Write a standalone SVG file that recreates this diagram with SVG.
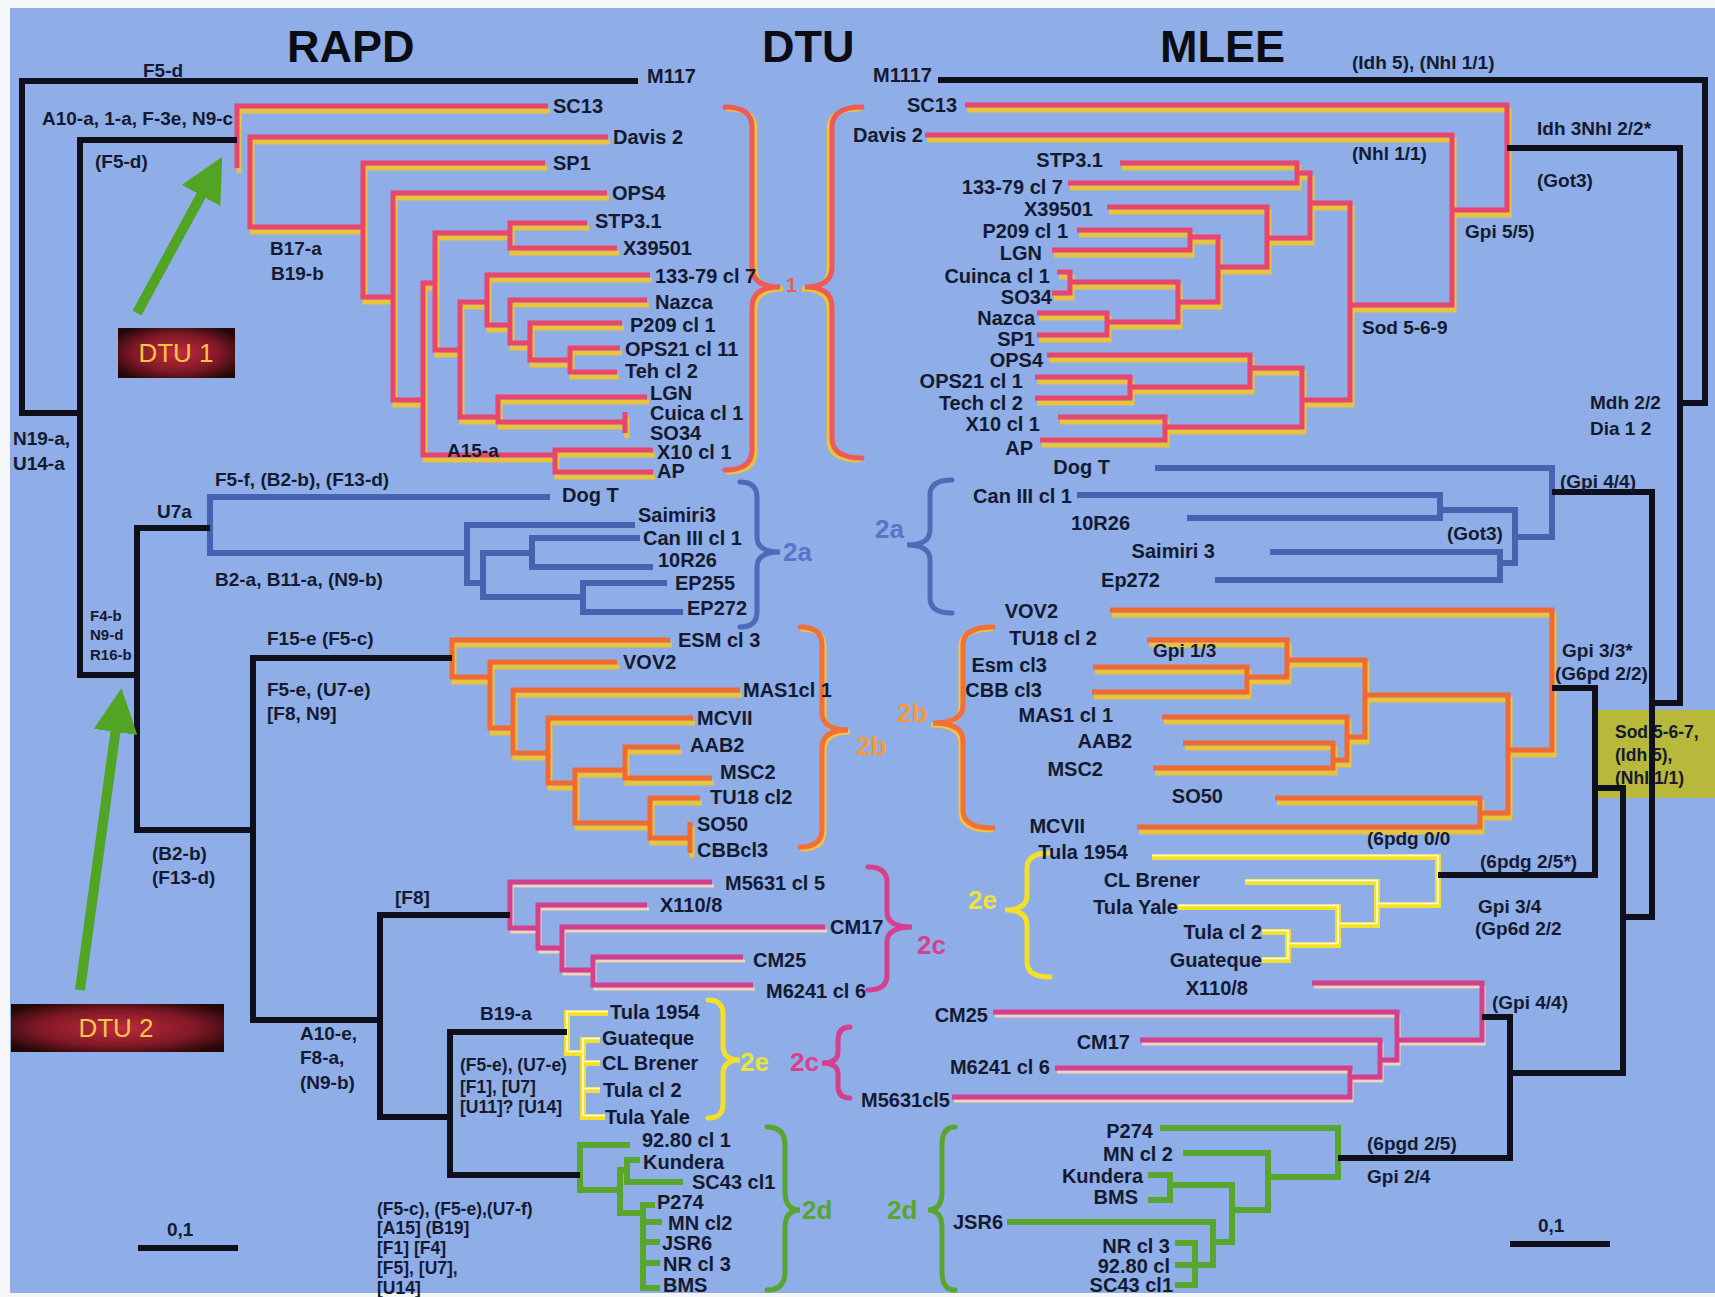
<svg xmlns="http://www.w3.org/2000/svg" width="1715" height="1297" viewBox="0 0 1715 1297">
<style>
text{font-family:"Liberation Sans",Arial,sans-serif;font-weight:bold;fill:#141a30;dominant-baseline:central}
.lf{font-size:20px}
.an{font-size:19px}
.sm{font-size:15px}
.bk{font-size:17.5px}
.ti{font-size:45px;fill:#0c0c14}
.e{text-anchor:end}
.dtu{font-size:26px;font-weight:normal;fill:#f8c448;text-anchor:middle}
.bl{font-size:26px}
.blk{fill:none;stroke:#10101c;stroke-width:6}
.br{fill:none;stroke-width:5;stroke-linecap:round}
.y1{stroke:#e8c43c;stroke-width:5}
.k1{stroke:#e8466c;stroke-width:5}
.or{stroke:#f06a34;stroke-width:5}
.mg{stroke:#d4408e;stroke-width:5}
.cr{stroke:#f4d4b8;stroke-width:3}
.ye{stroke:#f2e02a;stroke-width:6}
.wh{stroke:#fffbe0;stroke-width:1.6}
.bu{stroke:#4862b2;stroke-width:6}
.gr{stroke:#58a62e;stroke-width:6}
</style>
<defs>
<radialGradient id="dg" cx="0.5" cy="0.5" r="0.62">
<stop offset="0" stop-color="#c02c3c"/><stop offset="0.6" stop-color="#801826"/><stop offset="1" stop-color="#240808"/>
</radialGradient>
<marker id="ah" markerWidth="4.4" markerHeight="4.4" refX="0.4" refY="2.2" orient="auto" markerUnits="strokeWidth">
<path d="M0,0 L4.4,2.2 L0,4.4 Z" fill="#52a424"/>
</marker>
<g id="pr1" fill="none">
<path d="M548,106 H237 V168 M608,137 H250 V227 H363 M545,163 H363 V297 H393 M607,193 H393 V400 H423 M435,283 H423 V455 H555 M510,233 H435 V350 H460 M587,223 H510 V248 H617 M487,302 H460 V417 H498 M650,275 H487 V325 H510 M647,300 H510 V343 H530 M622,323 H530 V360 H570 M620,348 H570 V372 H617 M647,397 H498 V422 H625 M625,412 V433 M653,450 H555 V472 H653"/>
</g>
<g id="pm1" fill="none">
<path d="M965,105 H1507 V210 H1452 M925,135 H1452 V305 H1350 M1310,203 H1350 V400 H1302 M1297,173 H1310 V238 H1267 M1120,163 H1297 V183 H1068 M1107,207 H1267 V267 H1218 M1190,237 H1218 V302 H1178 M1077,230 H1190 V250 H1052 M1057,272 H1070 V293 H1052 M1070,282 H1178 V322 H1107 M1037,313 H1107 V335 H1037 M1250,368 H1302 V427 H1165 M1047,355 H1250 V387 H1130 M1035,377 H1130 V398 H1035 M1058,417 H1165 V440 H1040"/>
</g>
<g id="pr2b" fill="none">
<path d="M670,640 H452 V677 H490 M617,662 H490 V728 H513 M740,690 H513 V753 H548 M693,718 H548 V783 H575 M625,770 H575 V823 H650 M680,747 H625 V778 H712 M700,798 H650 V838 H690 M690,822 V853"/>
</g>
<g id="pm2b" fill="none">
<path d="M1110,610 H1552 V750 H1508 M1147,640 H1287 V677 H1247 M1093,667 H1247 V692 H1092 M1287,660 H1365 V737 H1347 M1162,717 H1347 V760 H1333 M1183,743 H1333 V768 H1153 M1365,695 H1508 V813 H1480 M1275,798 H1480 V827 H1137"/>
</g>
<g id="pr2c" fill="none">
<path d="M712,882 H510 V928 H538 M647,905 H538 V948 H562 M825,927 H562 V970 H593 M743,957 H593 V985 H753"/>
</g>
<g id="pm2c" fill="none">
<path d="M1312,983 H1482 V1040 H1397 M993,1012 H1397 V1060 H1380 M1140,1040 H1380 V1077 H1350 M1055,1068 H1350 V1097 H952"/>
</g>
<g id="pr2e" fill="none">
<path d="M608,1013 H567 V1053 H583 M600,1040 H583 V1117 H605 M583,1063 H600 M583,1090 H600"/>
</g>
<g id="pm2e" fill="none">
<path d="M1152,857 H1438 V905 H1377 M1245,882 H1377 V925 H1338 M1178,907 H1338 V945 H1288 M1262,932 H1288 V960 H1262"/>
</g>
</defs>

<rect x="0" y="0" width="1715" height="1297" fill="#f4f6f8"/>
<rect x="10" y="8" width="1705" height="1285" fill="#8fade7"/>

<g id="titles">
<text class="ti" x="287" y="46">RAPD</text>
<text class="ti" x="762" y="46">DTU</text>
<text class="ti" x="1160" y="46">MLEE</text>
</g>

<g id="mlee-box">
<rect x="1598" y="710" width="117" height="88" fill="#b8b83a"/>
<text class="bk" x="1615" y="732">Sod 5-6-7,</text>
<text class="bk" x="1615" y="755">(Idh 5),</text>
<text class="bk" x="1615" y="778">(Nhl 1/1)</text>
</g>

<g id="connectors">
<use href="#pr1" class="y1" transform="translate(2,5)"/>
<use href="#pr1" class="k1"/>
<use href="#pm1" class="y1" transform="translate(2,5)"/>
<use href="#pm1" class="k1"/>
<use href="#pr2b" class="y1" transform="translate(2,5)"/>
<use href="#pr2b" class="or"/>
<use href="#pm2b" class="y1" transform="translate(2,5)"/>
<use href="#pm2b" class="or"/>
<use href="#pr2c" class="cr" transform="translate(2,4)"/>
<use href="#pr2c" class="mg"/>
<use href="#pm2c" class="cr" transform="translate(2,4)"/>
<use href="#pm2c" class="mg"/>
<use href="#pr2e" class="ye"/>
<use href="#pr2e" class="wh" transform="translate(0,-1.5)"/>
<use href="#pm2e" class="ye"/>
<use href="#pm2e" class="wh" transform="translate(0,-1.5)"/>
<path class="bu" fill="none" d="M550,497 H210 V553 H467 M635,525 H467 V583 H483 M532,553 H483 V597 H583 M640,538 H532 V567 H653 M667,583 H583 V612 H683"/>
<path class="bu" fill="none" d="M1155,468 H1552 V537 H1515 M1077,495 H1440 V518 H1187 M1440,510 H1515 V563 H1500 M1270,552 H1500 V580 H1215"/>
<path class="gr" fill="none" d="M630,1145 H580 V1190 H620 M640,1160 H627 V1182 H683 M627,1170 H620 V1213 H643 M655,1205 H643 V1288 H660 M643,1222 H662 M643,1242 H660 M643,1263 H660"/>
<path class="gr" fill="none" d="M1160,1128 H1338 V1177 H1268 M1183,1153 H1268 V1210 H1232 M1148,1175 H1170 V1200 H1148 M1170,1185 H1232 V1242 H1213 M1007,1222 H1213 V1265 H1195 M1175,1243 H1195 V1285 H1175 M1175,1265 H1195"/>
<path class="blk" d="M638,81 H22 V413 H80 M237,140 H80 V675 H137 M210,528 H137 V830 H253 M452,658 H253 V1020 H380 M510,915 H380 V1117 H450 M567,1032 H450 V1175 H580"/>
<path class="blk" d="M938,80 H1705 V403 H1680 M1507,148 H1680 V703 H1652 M1552,492 H1652 V917 H1623 M1552,688 H1595 V875 H1438 M1595,788 H1623 V1073 H1510 M1482,1017 H1510 V1158 H1338"/>
<path class="blk" d="M138,1248 H238 M1510,1244 H1610"/>
</g>

<g id="braces">
<path class="br" stroke="#e8c43c" transform="translate(3,2)" d="M725,107 Q752,107 752,127 V267 Q752,287 780,287 Q752,287 752,307 V450 Q752,470 725,470"/>
<path class="br" stroke="#ee5a58" d="M725,107 Q752,107 752,127 V267 Q752,287 780,287 Q752,287 752,307 V450 Q752,470 725,470"/>
<path class="br" stroke="#e8c43c" transform="translate(-3,2)" d="M862,107 Q832,107 832,127 V267 Q832,287 805,287 Q832,287 832,307 V438 Q832,458 862,458"/>
<path class="br" stroke="#ee5a58" d="M862,107 Q832,107 832,127 V267 Q832,287 805,287 Q832,287 832,307 V438 Q832,458 862,458"/>
<path class="br" stroke="#4f6ab8" d="M740,482 Q757,482 757,497 V537 Q757,552 780,552 Q757,552 757,567 V612 Q757,627 740,627"/>
<path class="br" stroke="#4f6ab8" d="M952,480 Q930,480 930,495 V530 Q930,545 907,545 Q930,545 930,560 V598 Q930,613 952,613"/>
<path class="br" stroke="#f2c240" transform="translate(2,2)" d="M800,627 Q822,627 822,645 V712 Q822,730 848,730 Q822,730 822,748 V829 Q822,847 800,847"/>
<path class="br" stroke="#f07038" d="M800,627 Q822,627 822,645 V712 Q822,730 848,730 Q822,730 822,748 V829 Q822,847 800,847"/>
<path class="br" stroke="#f2c240" transform="translate(-2,2)" d="M993,627 Q963,627 963,645 V705 Q963,723 933,723 Q963,723 963,741 V810 Q963,828 993,828"/>
<path class="br" stroke="#f07038" d="M993,627 Q963,627 963,645 V705 Q963,723 933,723 Q963,723 963,741 V810 Q963,828 993,828"/>
<path class="br" stroke="#d4408e" d="M868,867 Q887,867 887,882 V912 Q887,927 912,927 Q887,927 887,942 V975 Q887,990 868,990"/>
<path class="br" stroke="#d4408e" d="M850,1027 Q838,1027 838,1040 V1052 Q838,1063 822,1063 Q838,1063 838,1074 V1086 Q838,1098 850,1098"/>
<path class="br" stroke="#f2e02a" d="M708,1000 Q723,1000 723,1014 V1046 Q723,1060 740,1060 Q723,1060 723,1074 V1104 Q723,1118 708,1118"/>
<path class="br" stroke="#f2e02a" d="M1050,853 Q1027,853 1027,868 V895 Q1027,910 1005,910 Q1027,910 1027,925 V962 Q1027,977 1050,977"/>
<path class="br" stroke="#58a62e" d="M767,1127 Q785,1127 785,1145 V1192 Q785,1210 800,1210 Q785,1210 785,1228 V1272 Q785,1290 767,1290"/>
<path class="br" stroke="#58a62e" d="M955,1127 Q942,1127 942,1145 V1192 Q942,1210 928,1210 Q942,1210 942,1228 V1272 Q942,1290 955,1290"/>
<text x="786" y="285" font-size="20" style="fill:#e8604c">1</text>
<text class="bl" x="783" y="552" style="fill:#5a74c8">2a</text>
<text class="bl" x="875" y="529" style="fill:#5a74c8">2a</text>
<text class="bl" x="856" y="746" style="fill:#f29a40">2b</text>
<text class="bl" x="897" y="713" style="fill:#f29a40">2b</text>
<text class="bl" x="917" y="945" style="fill:#d8408c">2c</text>
<text class="bl" x="790" y="1062" style="fill:#d8408c">2c</text>
<text class="bl" x="740" y="1062" style="fill:#ece23c">2e</text>
<text class="bl" x="968" y="900" style="fill:#ece23c">2e</text>
<text class="bl" x="802" y="1210" style="fill:#58a62e">2d</text>
<text class="bl" x="887" y="1210" style="fill:#58a62e">2d</text>
</g>

<g id="dtu-labels">
<line x1="137" y1="313" x2="203" y2="192" stroke="#52a424" stroke-width="10" marker-end="url(#ah)"/>
<line x1="80" y1="990" x2="116" y2="728" stroke="#52a424" stroke-width="10" marker-end="url(#ah)"/>
<rect x="118" y="328" width="117" height="50" fill="url(#dg)"/>
<text class="dtu" x="176" y="353">DTU 1</text>
<rect x="11" y="1004" width="213" height="48" fill="url(#dg)"/>
<text class="dtu" x="116" y="1028">DTU 2</text>
</g>

<g id="rapd-dtu1">
<text class="lf" x="647" y="76">M117</text>
<text class="lf" x="553" y="106">SC13</text>
<text class="lf" x="613" y="137">Davis 2</text>
<text class="lf" x="553" y="163">SP1</text>
<text class="lf" x="612" y="193">OPS4</text>
<text class="lf" x="595" y="221">STP3.1</text>
<text class="lf" x="623" y="248">X39501</text>
<text class="lf" x="655" y="276">133-79 cl 7</text>
<text class="lf" x="655" y="302">Nazca</text>
<text class="lf" x="630" y="325">P209 cl 1</text>
<text class="lf" x="625" y="349">OPS21 cl 11</text>
<text class="lf" x="625" y="371">Teh cl 2</text>
<text class="lf" x="650" y="393">LGN</text>
<text class="lf" x="650" y="413">Cuica cl 1</text>
<text class="lf" x="650" y="433">SO34</text>
<text class="lf" x="657" y="452">X10 cl 1</text>
<text class="lf" x="657" y="471">AP</text>
<text class="an" x="143" y="70">F5-d</text>
<text class="an" x="42" y="118">A10-a, 1-a, F-3e, N9-c</text>
<text class="an" x="95" y="161">(F5-d)</text>
<text class="an" x="270" y="248">B17-a</text>
<text class="an" x="271" y="273">B19-b</text>
<text class="an" x="447" y="450">A15-a</text>
<text class="an" x="13" y="438">N19-a,</text>
<text class="an" x="13" y="463">U14-a</text>
</g>

<g id="rapd-2a">
<text class="lf" x="562" y="495">Dog T</text>
<text class="lf" x="638" y="515">Saimiri3</text>
<text class="lf" x="643" y="538">Can III cl 1</text>
<text class="lf" x="658" y="560">10R26</text>
<text class="lf" x="675" y="583">EP255</text>
<text class="lf" x="687" y="608">EP272</text>
<text class="an" x="157" y="511">U7a</text>
<text class="an" x="215" y="479">F5-f, (B2-b), (F13-d)</text>
<text class="an" x="215" y="579">B2-a, B11-a, (N9-b)</text>
<text class="sm" x="90" y="615">F4-b</text>
<text class="sm" x="90" y="634">N9-d</text>
<text class="sm" x="90" y="654">R16-b</text>
</g>

<g id="rapd-2b">
<text class="lf" x="678" y="640">ESM cl 3</text>
<text class="lf" x="623" y="662">VOV2</text>
<text class="lf" x="743" y="690">MAS1cl 1</text>
<text class="lf" x="697" y="718">MCVII</text>
<text class="lf" x="690" y="745">AAB2</text>
<text class="lf" x="720" y="772">MSC2</text>
<text class="lf" x="710" y="797">TU18 cl2</text>
<text class="lf" x="697" y="824">SO50</text>
<text class="lf" x="697" y="850">CBBcl3</text>
<text class="an" x="267" y="638">F15-e (F5-c)</text>
<text class="an" x="267" y="689">F5-e, (U7-e)</text>
<text class="an" x="267" y="713">[F8, N9]</text>
<text class="an" x="152" y="853">(B2-b)</text>
<text class="an" x="152" y="877">(F13-d)</text>
</g>

<g id="rapd-2c">
<text class="lf" x="725" y="883">M5631 cl 5</text>
<text class="lf" x="660" y="905">X110/8</text>
<text class="lf" x="830" y="927">CM17</text>
<text class="lf" x="753" y="960">CM25</text>
<text class="lf" x="766" y="991">M6241 cl 6</text>
<text class="an" x="395" y="897">[F8]</text>
<text class="an" x="300" y="1033">A10-e,</text>
<text class="an" x="300" y="1057">F8-a,</text>
<text class="an" x="300" y="1082">(N9-b)</text>
</g>

<g id="rapd-2e">
<text class="lf" x="610" y="1012">Tula 1954</text>
<text class="lf" x="602" y="1038">Guateque</text>
<text class="lf" x="602" y="1063">CL Brener</text>
<text class="lf" x="603" y="1090">Tula cl 2</text>
<text class="lf" x="605" y="1117">Tula Yale</text>
<text class="an" x="480" y="1013">B19-a</text>
<text class="bk" x="460" y="1065">(F5-e), (U7-e)</text>
<text class="bk" x="460" y="1087">[F1], [U7]</text>
<text class="bk" x="460" y="1107">[U11]? [U14]</text>
</g>

<g id="rapd-2d">
<text class="lf" x="642" y="1140">92.80 cl 1</text>
<text class="lf" x="643" y="1162">Kundera</text>
<text class="lf" x="692" y="1182">SC43 cl1</text>
<text class="lf" x="657" y="1202" font-size="19">P274</text>
<text class="lf" x="668" y="1223" font-size="19">MN cl2</text>
<text class="lf" x="662" y="1243">JSR6</text>
<text class="lf" x="663" y="1264">NR cl 3</text>
<text class="lf" x="663" y="1285">BMS</text>
<text class="bk" x="377" y="1209">(F5-c), (F5-e),(U7-f)</text>
<text class="bk" x="377" y="1228">[A15] (B19]</text>
<text class="bk" x="377" y="1248">[F1] [F4]</text>
<text class="bk" x="377" y="1268">[F5], [U7],</text>
<text class="bk" x="377" y="1288">[U14]</text>
<text class="an" x="167" y="1229">0,1</text>
</g>

<g id="mlee-dtu1">
<text class="lf e" x="932" y="75">M1117</text>
<text class="lf e" x="957" y="105">SC13</text>
<text class="lf e" x="923" y="135">Davis 2</text>
<text class="lf e" x="1103" y="160">STP3.1</text>
<text class="lf e" x="1063" y="187">133-79 cl 7</text>
<text class="lf e" x="1093" y="209">X39501</text>
<text class="lf e" x="1068" y="231">P209 cl 1</text>
<text class="lf e" x="1042" y="253">LGN</text>
<text class="lf e" x="1050" y="276">Cuinca cl 1</text>
<text class="lf e" x="1052" y="297">SO34</text>
<text class="lf e" x="1035" y="318">Nazca</text>
<text class="lf e" x="1035" y="339">SP1</text>
<text class="lf e" x="1043" y="360">OPS4</text>
<text class="lf e" x="1023" y="381">OPS21 cl 1</text>
<text class="lf e" x="1023" y="403">Tech cl 2</text>
<text class="lf e" x="1040" y="424">X10 cl 1</text>
<text class="lf e" x="1033" y="448">AP</text>
<text class="an" x="1352" y="62">(Idh 5), (Nhl 1/1)</text>
<text class="an" x="1537" y="128">Idh 3Nhl 2/2*</text>
<text class="an" x="1537" y="180">(Got3)</text>
<text class="an" x="1352" y="153">(Nhl 1/1)</text>
<text class="an" x="1465" y="231">Gpi 5/5)</text>
<text class="an" x="1362" y="327">Sod 5-6-9</text>
<text class="an" x="1590" y="402">Mdh 2/2</text>
<text class="an" x="1590" y="428">Dia 1 2</text>
</g>

<g id="mlee-2a">
<text class="lf e" x="1110" y="467">Dog T</text>
<text class="lf e" x="1072" y="496">Can III cl 1</text>
<text class="lf e" x="1130" y="523">10R26</text>
<text class="lf e" x="1215" y="551">Saimiri 3</text>
<text class="lf e" x="1160" y="580">Ep272</text>
<text class="an" x="1560" y="481">(Gpi 4/4)</text>
<text class="an" x="1447" y="533">(Got3)</text>
</g>

<g id="mlee-2b">
<text class="lf e" x="1058" y="611">VOV2</text>
<text class="lf e" x="1097" y="638">TU18 cl 2</text>
<text class="lf e" x="1047" y="665">Esm cl3</text>
<text class="lf e" x="1042" y="690">CBB cl3</text>
<text class="lf e" x="1113" y="715">MAS1 cl 1</text>
<text class="lf e" x="1132" y="741">AAB2</text>
<text class="lf e" x="1103" y="769">MSC2</text>
<text class="lf e" x="1223" y="796">SO50</text>
<text class="lf e" x="1085" y="826">MCVII</text>
<text class="an" x="1153" y="650">Gpi 1/3</text>
<text class="an" x="1562" y="650">Gpi 3/3*</text>
<text class="an" x="1555" y="673">(G6pd 2/2)</text>
</g>

<g id="mlee-2e">
<text class="lf e" x="1128" y="852">Tula 1954</text>
<text class="lf e" x="1200" y="880">CL Brener</text>
<text class="lf e" x="1178" y="907">Tula Yale</text>
<text class="lf e" x="1262" y="932">Tula cl 2</text>
<text class="lf e" x="1262" y="960">Guateque</text>
<text class="lf e" x="1248" y="988">X110/8</text>
<text class="an" x="1367" y="838">(6pdg 0/0</text>
<text class="an" x="1480" y="861">(6pdg 2/5*)</text>
<text class="an" x="1478" y="906">Gpi 3/4</text>
<text class="an" x="1475" y="928">(Gp6d 2/2</text>
</g>

<g id="mlee-2c">
<text class="lf e" x="988" y="1015">CM25</text>
<text class="lf e" x="1130" y="1042">CM17</text>
<text class="lf e" x="1050" y="1067">M6241 cl 6</text>
<text class="lf e" x="950" y="1100">M5631cl5</text>
<text class="an" x="1492" y="1002">(Gpi 4/4)</text>
</g>

<g id="mlee-2d">
<text class="lf e" x="1153" y="1131">P274</text>
<text class="lf e" x="1173" y="1154">MN cl 2</text>
<text class="lf e" x="1143" y="1176">Kundera</text>
<text class="lf e" x="1138" y="1197">BMS</text>
<text class="lf e" x="1003" y="1222">JSR6</text>
<text class="lf e" x="1170" y="1246">NR cl 3</text>
<text class="lf e" x="1170" y="1266">92.80 cl</text>
<text class="lf e" x="1173" y="1285">SC43 cl1</text>
<text class="an" x="1367" y="1143">(6pgd 2/5)</text>
<text class="an" x="1367" y="1176">Gpi 2/4</text>
<text class="an" x="1538" y="1225">0,1</text>
</g>
</svg>
